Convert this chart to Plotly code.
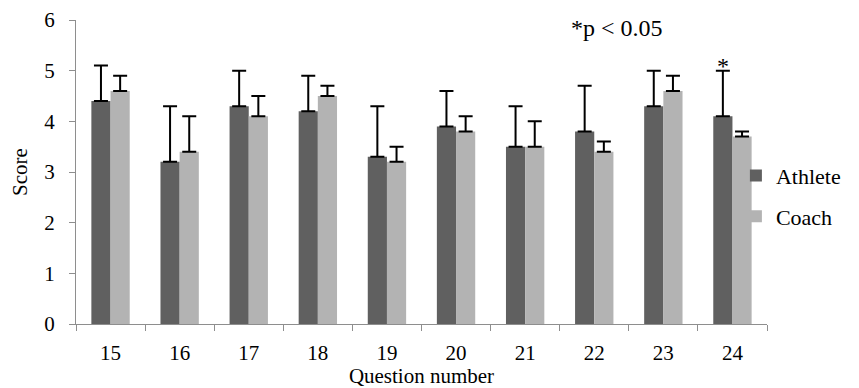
import plotly.graph_objects as go

questions = ["15", "16", "17", "18", "19", "20", "21", "22", "23", "24"]
athlete = [4.4, 3.2, 4.3, 4.2, 3.3, 3.9, 3.5, 3.8, 4.3, 4.1]
athlete_err = [0.7, 1.1, 0.7, 0.7, 1.0, 0.7, 0.8, 0.9, 0.7, 0.9]
coach = [4.6, 3.4, 4.1, 4.5, 3.2, 3.8, 3.5, 3.4, 4.6, 3.7]
coach_err = [0.3, 0.7, 0.4, 0.2, 0.3, 0.3, 0.5, 0.2, 0.3, 0.1]
y_ticks = [0, 1, 2, 3, 4, 5, 6]
significant = ["24"]

FONT = "Liberation Serif"
AXIS = "#8e8e8e"

fig = go.Figure()
fig.add_trace(go.Bar(
    name="Athlete", x=questions, y=athlete, legendgroup="a",
    marker=dict(color="#606060", line=dict(width=0)),
    error_y=dict(type="data", symmetric=False, array=athlete_err,
                 arrayminus=[0] * len(athlete), color="black", thickness=2, width=7),
))
fig.add_trace(go.Bar(
    name="Coach", x=questions, y=coach, legendgroup="c",
    marker=dict(color="#b3b3b3", line=dict(width=0)),
    error_y=dict(type="data", symmetric=False, array=coach_err,
                 arrayminus=[0] * len(coach), color="black", thickness=2, width=7),
))

fig.add_annotation(text="*p < 0.05", xref="paper", yref="paper",
                   x=0.713, y=0.975, xanchor="left", yanchor="middle",
                   showarrow=False, font=dict(family=FONT, size=24, color="black"))
for q in significant:
    i = questions.index(q)
    fig.add_annotation(text="*", xref="x", yref="y", x=i,
                       y=athlete[i] + athlete_err[i], xshift=-9.6, yshift=5,
                       xanchor="center", yanchor="middle",
                       showarrow=False, font=dict(family=FONT, size=24, color="black"))

fig.update_layout(
    width=851, height=380,
    margin=dict(l=68, r=92, t=12, b=64),
    paper_bgcolor="white", plot_bgcolor="white",
    barmode="group", bargap=0.445, bargroupgap=0,
    font=dict(family=FONT, size=21, color="black"),
    legend=dict(x=0.955, y=0.42, xanchor="left", yanchor="middle",
                font=dict(family=FONT, size=22), tracegroupgap=9,
                bgcolor="rgba(0,0,0,0)"),
    xaxis=dict(
        type="category", showline=True, linecolor=AXIS, linewidth=1,
        ticks="outside", tickson="boundaries", ticklen=6, tickcolor=AXIS,
        showgrid=False, ticklabelstandoff=10, tickangle=0, automargin=False,
        tickfont=dict(family=FONT, size=21),
        title=dict(text="Question number", standoff=2, font=dict(family=FONT, size=21)),
    ),
    yaxis=dict(
        range=[0, 6], tickvals=y_ticks, showline=True, linecolor=AXIS, linewidth=1,
        ticks="outside", ticklen=6, tickcolor=AXIS, showgrid=False, zeroline=False,
        ticklabelstandoff=10, automargin=False, ticklabeloverflow="allow",
        tickfont=dict(family=FONT, size=21),
        title=dict(text="Score", standoff=18, font=dict(family=FONT, size=21)),
    ),
)

fig.write_html("out.html")
